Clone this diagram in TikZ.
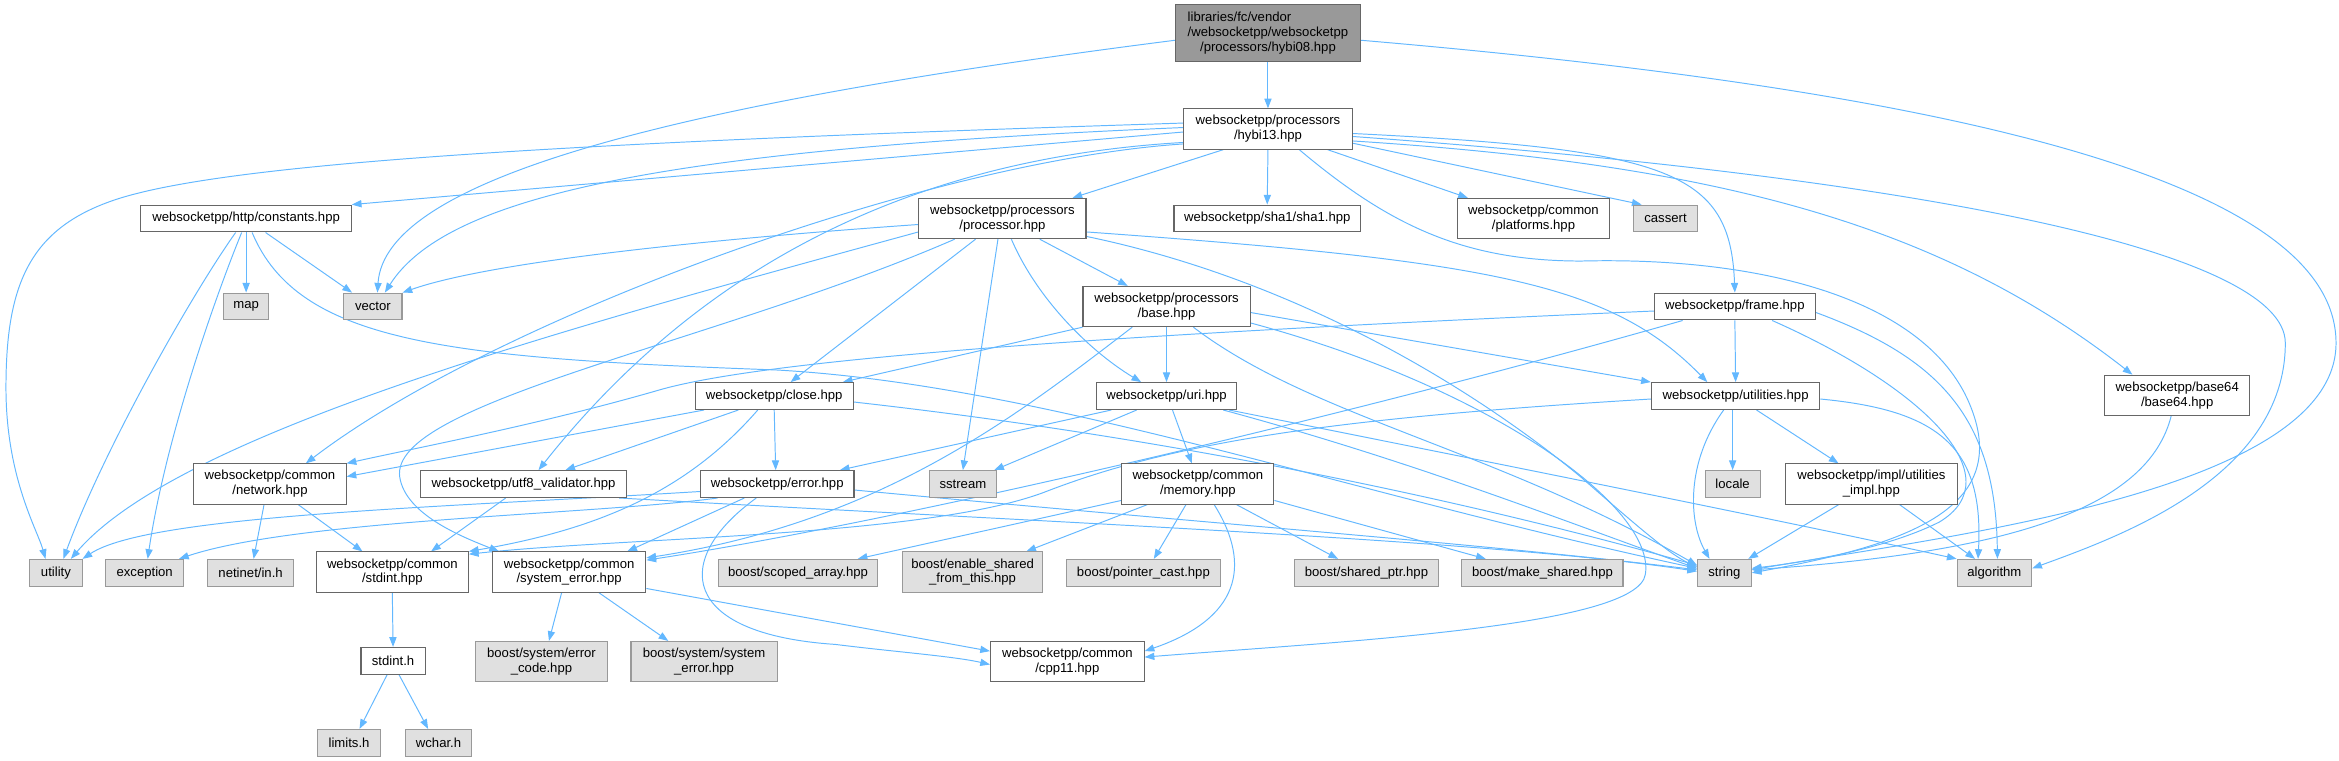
\documentclass[tikz,border=0pt]{standalone}
\usepackage{fontspec}
\setmainfont{Liberation Sans}
\usetikzlibrary{arrows.meta}
\definecolor{edgec}{HTML}{63B8FF}
\definecolor{bordc}{HTML}{666666}
\definecolor{sysb}{HTML}{999999}
\definecolor{sysf}{HTML}{E0E0E0}
\definecolor{rootf}{HTML}{999999}
\pgfdeclarelayer{bg}
\pgfsetlayers{bg,main}
\newlength\firstw
\begin{document}
\begin{tikzpicture}[x=1pt,y=1pt,
 box/.style={draw=bordc, fill=white, line width=0.7pt, inner sep=0pt, align=center, text=black, font=\fontsize{8.8}{10}\selectfont},
 sys/.style={box, draw=sysb, fill=sysf},
 root/.style={box, fill=rootf},
 e/.style={draw=edgec, line width=0.65pt, -{Triangle[length=6.5pt,width=4.8pt]}}]
\useasboundingbox (0,0) rectangle (1568,-510);
% ---------- nodes ----------
\node[root, minimum width=124pt, minimum height=38pt] (n08) at (850,-22) {\settowidth{\firstw}{/websocketpp/websocketpp}\makebox[\firstw][l]{libraries/fc/vendor}\\/websocketpp/websocketpp\\/processors/hybi08.hpp};
\node[box, minimum width=113pt, minimum height=27pt] (n13) at (850,-86.5) {websocketpp/processors\\/hybi13.hpp};
\node[box, minimum width=141pt, minimum height=18pt] (cons) at (165,-146.5) {websocketpp/http/constants.hpp};
\node[box, minimum width=112pt, minimum height=27pt] (proc) at (672,-146.5) {websocketpp/processors\\/processor.hpp};
\node[box, minimum width=125pt, minimum height=18pt] (sha1) at (849.5,-146.5) {websocketpp/sha1/sha1.hpp};
\node[box, minimum width=102pt, minimum height=27pt] (plat) at (1028,-146.5) {websocketpp/common\\/platforms.hpp};
\node[sys, minimum width=43pt, minimum height=18pt] (cass) at (1116.5,-146.5) {cassert};
\node[sys, minimum width=30pt, minimum height=18pt] (map) at (165,-205.5) {map};
\node[sys, minimum width=39pt, minimum height=18pt] (vec) at (250,-205.5) {vector};
\node[box, minimum width=112pt, minimum height=27pt] (base) at (782,-205.5) {websocketpp/processors\\/base.hpp};
\node[box, minimum width=108pt, minimum height=18pt] (frame) at (1163,-205.5) {websocketpp/frame.hpp};
\node[box, minimum width=106pt, minimum height=18pt] (close) at (519,-265.5) {websocketpp/close.hpp};
\node[box, minimum width=94pt, minimum height=18pt] (uri) at (782,-265.5) {websocketpp/uri.hpp};
\node[box, minimum width=113pt, minimum height=18pt] (util) at (1163.5,-265.5) {websocketpp/utilities.hpp};
\node[box, minimum width=97pt, minimum height=27pt] (b64) at (1459.5,-265) {websocketpp/base64\\/base64.hpp};
\node[box, minimum width=102pt, minimum height=27pt] (net) at (181,-324.5) {websocketpp/common\\/network.hpp};
\node[box, minimum width=138pt, minimum height=18pt] (utf8) at (351,-324.5) {websocketpp/utf8\_validator.hpp};
\node[box, minimum width=103pt, minimum height=18pt] (err) at (521,-324.5) {websocketpp/error.hpp};
\node[sys, minimum width=45pt, minimum height=18pt] (sstr) at (645.5,-324.5) {sstream};
\node[box, minimum width=102pt, minimum height=27pt] (mem) at (803,-324.5) {websocketpp/common\\/memory.hpp};
\node[sys, minimum width=37pt, minimum height=18pt] (loc) at (1161.5,-324.5) {locale};
\node[box, minimum width=115pt, minimum height=27pt] (impl) at (1254.5,-324.5) {websocketpp/impl/utilities\\\_impl.hpp};
\node[sys, minimum width=35pt, minimum height=18pt] (utility) at (37.5,-384) {utility};
\node[sys, minimum width=52pt, minimum height=18pt] (exc) at (97,-384) {exception};
\node[sys, minimum width=58pt, minimum height=18pt] (netin) at (168,-384) {netinet/in.h};
\node[box, minimum width=102pt, minimum height=27pt] (cstd) at (263,-383.5) {websocketpp/common\\/stdint.hpp};
\node[box, minimum width=103pt, minimum height=27pt] (syserr) at (381.5,-383.5) {websocketpp/common\\/system\_error.hpp};
\node[sys, minimum width=107pt, minimum height=18pt] (scoped) at (535,-384) {boost/scoped\_array.hpp};
\node[sys, minimum width=94pt, minimum height=27pt] (enable) at (652,-383.5) {boost/enable\_shared\\\_from\_this.hpp};
\node[sys, minimum width=103pt, minimum height=18pt] (ptrc) at (766.5,-384) {boost/pointer\_cast.hpp};
\node[sys, minimum width=96pt, minimum height=18pt] (shptr) at (916,-384) {boost/shared\_ptr.hpp};
\node[sys, minimum width=108pt, minimum height=18pt] (mksh) at (1034,-384) {boost/make\_shared.hpp};
\node[sys, minimum width=36pt, minimum height=18pt] (str) at (1156,-384) {string};
\node[sys, minimum width=50pt, minimum height=18pt] (alg) at (1337,-384) {algorithm};
\node[box, minimum width=43pt, minimum height=18pt] (stdh) at (263.5,-443) {stdint.h};
\node[sys, minimum width=88pt, minimum height=27pt] (errc) at (363,-443.5) {boost/system/error\\\_code.hpp};
\node[sys, minimum width=98pt, minimum height=27pt] (bsys) at (472,-443.5) {boost/system/system\\\_error.hpp};
\node[box, minimum width=103pt, minimum height=27pt] (cpp11) at (715.5,-443.5) {websocketpp/common\\/cpp11.hpp};
\node[sys, minimum width=42pt, minimum height=18pt] (lim) at (234,-498) {limits.h};
\node[sys, minimum width=44pt, minimum height=18pt] (wch) at (294,-498) {wchar.h};
% ---------- edges ----------
\begin{pgfonlayer}{bg}
\fill[white] (0,0) rectangle (1568,-510);
% hybi08
\draw[e] (n08.south) -- (n13.north);
\draw[e] ([yshift=-5pt]n08.west) .. controls (450,-70) and (258,-120) .. ([xshift=3pt]vec.north);
\draw[e] ([yshift=-5pt]n08.east) .. controls (1300,-60) and (1566,-120) .. (1566,-230) .. controls (1566,-330) and (1300,-360) .. ([yshift=2pt]str.east);
% hybi13
\draw[e] ([xshift=-30pt]n13.south) -- ([xshift=47pt]proc.north);
\draw[e] (n13.south) -- (sha1.north);
\draw[e] ([xshift=40pt]n13.south) -- ([xshift=-44pt]plat.north);
\draw[e] ([yshift=-9.5pt]n13.east) -- ([xshift=-16pt]cass.north);
\draw[e] ([yshift=-3pt]n13.east) .. controls (1120,-100) and (1160,-115) .. (frame.north);
\draw[e] ([yshift=-8pt]n13.east) .. controls (1150,-110) and (1300,-150) .. ([xshift=-30pt]b64.north);
\draw[e] ([yshift=-5pt]n13.east) .. controls (1300,-120) and (1532,-170) .. (1532,-230) .. controls (1532,-320) and (1420,-360) .. ([yshift=3pt]alg.east);
\draw[e] ([xshift=21pt]n13.south) .. controls (930,-150) and (980,-175) .. (1060,-175) .. controls (1180,-172) and (1290,-200) .. (1320,-270) .. controls (1350,-340) and (1280,-365) .. (str.east);
\draw[e] ([yshift=4pt]n13.west) .. controls (400,-95) and (160,-108) .. (80,-133) .. controls (20,-152) and (4,-190) .. (4,-260) .. controls (4,-320) and (25,-355) .. ([xshift=-7pt]utility.north);
\draw[e] ([yshift=-2pt]n13.west) -- (cons.north east);
\draw[e] ([yshift=1pt]n13.west) .. controls (450,-100) and (300,-130) .. ([xshift=8pt]vec.north);
\draw[e] ([yshift=-9pt]n13.west) .. controls (630,-105) and (480,-165) .. ([xshift=10pt]utf8.north);
\draw[e] ([yshift=-10pt]n13.west) .. controls (620,-108) and (330,-215) .. ([xshift=24pt]net.north);
% constants
\draw[e] (cons.south) -- (map.north);
\draw[e] ([xshift=13pt]cons.south) -- ([xshift=-14pt]vec.north);
\draw[e] ([xshift=-7pt]cons.south) .. controls (130,-195) and (70,-300) .. ([xshift=5pt]utility.north);
\draw[e] ([xshift=-3pt]cons.south) .. controls (140,-210) and (110,-300) .. ([xshift=2pt]exc.north);
\draw[e] ([xshift=4pt]cons.south) .. controls (200,-230) and (300,-240) .. (520,-248) .. controls (700,-258) and (900,-330) .. ([yshift=3pt]str.west);
% processor
\draw[e] ([yshift=-4pt]proc.west) .. controls (480,-160) and (330,-175) .. (vec.north east);
\draw[e] ([yshift=-9pt]proc.west) .. controls (380,-220) and (120,-290) .. ([xshift=10pt]utility.north);
\draw[e] ([xshift=-32pt]proc.south) .. controls (480,-230) and (260,-270) .. (268,-320) .. controls (272,-345) and (310,-360) .. ([xshift=-47pt]syserr.north);
\draw[e] ([xshift=-18pt]proc.south) -- ([xshift=11pt]close.north);
\draw[e] ([xshift=-3pt]proc.south) -- (sstr.north);
\draw[e] ([xshift=6pt]proc.south) .. controls (695,-200) and (730,-235) .. ([xshift=-17pt]uri.north);
\draw[e] ([xshift=25pt]proc.south) -- ([xshift=-26pt]base.north);
\draw[e] ([yshift=-9pt]proc.east) .. controls (1000,-175) and (1080,-190) .. ([xshift=-19pt]util.north);
\draw[e] ([yshift=-12pt]proc.east) .. controls (880,-190) and (1000,-270) .. (1060,-320) .. controls (1100,-355) and (1120,-372) .. ([yshift=4pt]str.west);
% base
\draw[e] (base.south west) -- ([xshift=46pt]close.north);
\draw[e] ([xshift=-23pt]base.south) .. controls (680,-280) and (590,-350) .. ([yshift=9.5pt]syserr.east);
\draw[e] (base.south) -- (uri.north);
\draw[e] ([xshift=18pt]base.south) .. controls (880,-280) and (1000,-300) .. ([yshift=5pt]str.west);
\draw[e] ([yshift=-4pt]base.east) -- (util.north west);
\draw[e] ([yshift=-11pt]base.east) .. controls (1000,-260) and (1110,-340) .. (1103,-385) .. controls (1098,-420) and (900,-430) .. ([yshift=3pt]cpp11.east);
% frame
\draw[e] ([yshift=-3pt]frame.west) .. controls (800,-222) and (520,-238) .. (440,-262) .. controls (360,-285) and (280,-300) .. (net.north east);
\draw[e] ([xshift=-35pt]frame.south) .. controls (900,-280) and (600,-350) .. ([yshift=8pt]syserr.east);
\draw[e] (frame.south) -- (util.north);
\draw[e] ([xshift=25pt]frame.south) .. controls (1290,-260) and (1350,-320) .. (1300,-350) .. controls (1260,-370) and (1200,-378) .. ([yshift=3pt]str.east);
\draw[e] ([yshift=-4pt]frame.east) .. controls (1300,-240) and (1338,-280) .. ([xshift=2pt]alg.north);
% close
\draw[e] (close.south) -- ([xshift=-1pt]err.north);
\draw[e] ([xshift=-47pt]close.south) -- ([yshift=5pt]net.east);
\draw[e] ([xshift=-11pt]close.south) .. controls (460,-330) and (400,-355) .. (cstd.north east);
\draw[e] ([xshift=-24pt]close.south) -- ([xshift=28pt]utf8.north);
\draw[e] ([yshift=-4pt]close.east) .. controls (800,-295) and (1000,-340) .. ([yshift=5pt]str.west);
% uri
\draw[e] ([xshift=-37pt]uri.south) -- ([xshift=42pt]err.north);
\draw[e] ([xshift=-20pt]uri.south) -- ([xshift=21pt]sstr.north);
\draw[e] ([xshift=4pt]uri.south) -- ([xshift=-4pt]mem.north);
\draw[e] ([xshift=38pt]uri.south) .. controls (950,-310) and (1050,-350) .. ([yshift=3pt]str.west);
\draw[e] ([xshift=42pt]uri.south) .. controls (1000,-310) and (1200,-350) .. (alg.north west);
% error
\draw[e] ([yshift=-5pt]err.west) .. controls (300,-340) and (100,-345) .. (utility.north east);
\draw[e] ([xshift=-40pt]err.south) .. controls (400,-345) and (200,-348) .. ([xshift=23pt]exc.north);
\draw[e] ([xshift=-22pt]err.south) -- ([xshift=39pt]syserr.north);
\draw[e] ([xshift=-14pt]err.south) .. controls (450,-375) and (455,-425) .. (560,-432) .. controls (600,-437) and (640,-440) .. ([yshift=-2pt]cpp11.west);
\draw[e] ([yshift=-4pt]err.east) .. controls (800,-350) and (1000,-365) .. ([yshift=2pt]str.west);
% utf8
\draw[e] ([xshift=-12pt]utf8.south) -- ([xshift=26pt]cstd.north);
\draw[e] ([xshift=64pt]utf8.south) .. controls (700,-350) and (1000,-362) .. ([yshift=1pt]str.west);
% network
\draw[e] ([xshift=-4pt]net.south) -- ([xshift=2pt]netin.north);
\draw[e] ([xshift=19pt]net.south) -- ([xshift=-20pt]cstd.north);
% stdint
\draw[e] (cstd.south) -- (stdh.north);
\draw[e] ([xshift=-4pt]stdh.south) -- ([xshift=7pt]lim.north);
\draw[e] ([xshift=4pt]stdh.south) -- ([xshift=-7pt]wch.north);
% system_error
\draw[e] ([xshift=-5pt]syserr.south) -- ([xshift=5pt]errc.north);
\draw[e] ([xshift=20pt]syserr.south) -- ([xshift=-24pt]bsys.north);
\draw[e] ([yshift=-11pt]syserr.east) -- ([yshift=7pt]cpp11.west);
% memory
\draw[e] ([yshift=-11pt]mem.west) -- ([xshift=40pt]scoped.north);
\draw[e] ([xshift=-34pt]mem.south) -- ([xshift=36pt]enable.north);
\draw[e] ([xshift=-8pt]mem.south) -- ([xshift=7pt]ptrc.north);
\draw[e] ([xshift=11pt]mem.south) .. controls (840,-380) and (830,-415) .. ([yshift=7pt]cpp11.east);
\draw[e] ([xshift=26pt]mem.south) -- ([xshift=-19pt]shptr.north);
\draw[e] ([yshift=-11pt]mem.east) -- ([xshift=-38pt]mksh.north);
% utilities
\draw[e] ([yshift=-2pt]util.west) .. controls (900,-280) and (790,-295) .. (700,-330) .. controls (620,-360) and (420,-360) .. ([yshift=12pt]cstd.east);
\draw[e] ([xshift=-8pt]util.south) .. controls (1130,-310) and (1132,-350) .. ([xshift=-10pt]str.north);
\draw[e] ([xshift=-2pt]util.south) -- (loc.north);
\draw[e] ([xshift=14pt]util.south) -- ([xshift=-22pt]impl.north);
\draw[e] ([yshift=-2pt]util.east) .. controls (1300,-275) and (1330,-300) .. ([xshift=-11pt]alg.north);
% impl
\draw[e] ([xshift=-22pt]impl.south) -- ([xshift=16pt]str.north);
\draw[e] ([xshift=19pt]impl.south) -- ([xshift=-13pt]alg.north);
% base64
\draw[e] ([xshift=-4pt]b64.south) .. controls (1440,-340) and (1350,-370) .. ([yshift=2pt]str.east);
\end{pgfonlayer}
\end{tikzpicture}
\end{document}
